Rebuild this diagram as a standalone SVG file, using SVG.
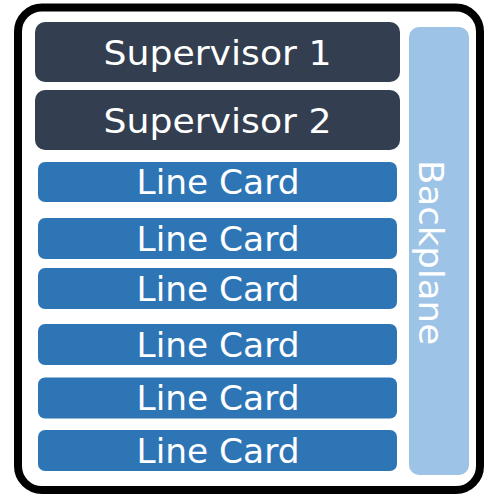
<svg xmlns="http://www.w3.org/2000/svg" width="488" height="498" viewBox="0 0 488 498">
<style>
.t{font-family:"DejaVu Sans","Liberation Sans",sans-serif;font-size:34px;fill:#ffffff;text-anchor:middle}
.sup{fill:#333F50}
.lc{fill:#2E75B6}
.bp{fill:#9DC3E6}
</style>
<rect width="488" height="498" fill="#ffffff"/>
<g id="chassis"><rect x="18" y="7.5" width="462" height="482.5" rx="24" fill="#ffffff" stroke="#000000" stroke-width="8"/></g>
<g id="supervisor1"><rect class="sup" x="35" y="22" width="365" height="60" rx="10"/><text class="t" x="217.5" y="64.5" textLength="228" lengthAdjust="spacingAndGlyphs">Supervisor 1</text></g>
<g id="supervisor2"><rect class="sup" x="35" y="90" width="365" height="60" rx="10"/><text class="t" x="217.5" y="132.5" textLength="228" lengthAdjust="spacingAndGlyphs">Supervisor 2</text></g>
<g id="linecard1"><rect class="lc" x="38" y="162" width="359" height="40" rx="7"/><text class="t" x="218" y="194" textLength="163" lengthAdjust="spacingAndGlyphs">Line Card</text></g>
<g id="linecard2"><rect class="lc" x="38" y="218" width="359" height="41" rx="7"/><text class="t" x="218" y="250.5" textLength="163" lengthAdjust="spacingAndGlyphs">Line Card</text></g>
<g id="linecard3"><rect class="lc" x="38" y="268" width="359" height="41" rx="7"/><text class="t" x="218" y="300.5" textLength="163" lengthAdjust="spacingAndGlyphs">Line Card</text></g>
<g id="linecard4"><rect class="lc" x="38" y="324" width="359" height="41" rx="7"/><text class="t" x="218" y="356.5" textLength="163" lengthAdjust="spacingAndGlyphs">Line Card</text></g>
<g id="linecard5"><rect class="lc" x="38" y="377.5" width="359" height="41" rx="7"/><text class="t" x="218" y="410" textLength="163" lengthAdjust="spacingAndGlyphs">Line Card</text></g>
<g id="linecard6"><rect class="lc" x="38" y="430" width="359" height="41" rx="7"/><text class="t" x="218" y="462.5" textLength="163" lengthAdjust="spacingAndGlyphs">Line Card</text></g>
<g id="backplane"><rect class="bp" x="409" y="27" width="60" height="448" rx="10"/><text class="t" transform="translate(418.5,252.5) rotate(90)" x="0" y="0" textLength="185" lengthAdjust="spacingAndGlyphs">Backplane</text></g>
<g id="connectors"></g>
</svg>
